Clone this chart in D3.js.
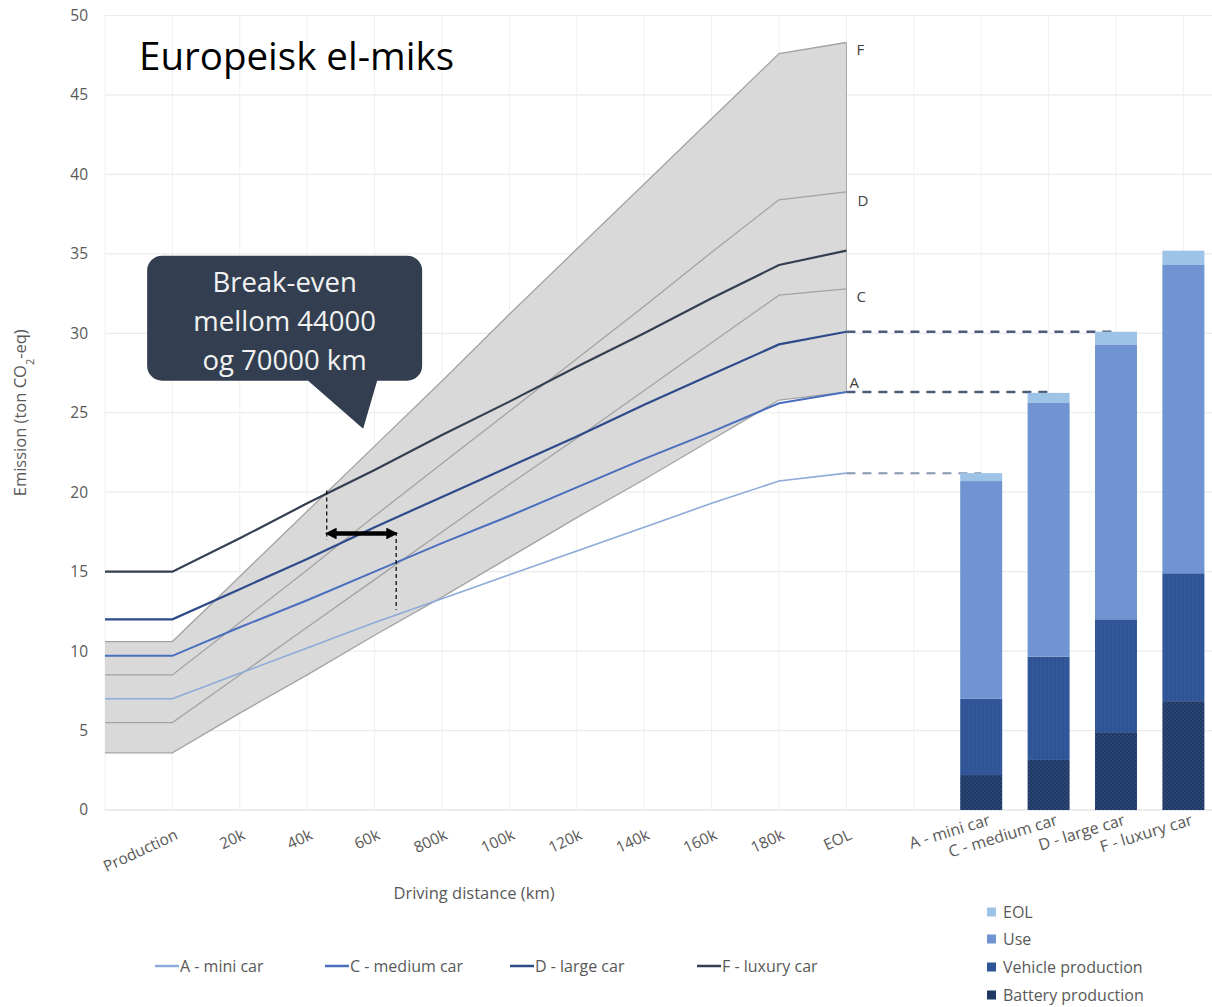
<!DOCTYPE html>
<html lang="no">
  <head>
    <meta charset="UTF-8" />
    <title>Europeisk el-miks</title>
    <script src="https://cdn.jsdelivr.net/npm/d3@7"></script>
    <style>
      body { margin: 0; background: #fff; }
      svg text { font-family: "Open Sans", "Noto Sans", sans-serif; }
    </style>
  </head>
  <body>
    <svg id="chart"></svg>
    <script>
      // x categories: one unlabeled start point, the distance steps, a gap, then the cars
      const distCats = ["", "Production", "20k", "40k", "60k", "800k", "100k", "120k", "140k", "160k", "180k", "EOL"];
      const carCats = ["A - mini car", "C - medium car", "D - large car", "F - luxury car"];
      const yTicks = [0, 5, 10, 15, 20, 25, 30, 35, 40, 45, 50];

      // electric cars (European mix), ton CO2-eq
      const evMini = [7.0, 7.0, 8.6, 10.2, 11.8, 13.3, 14.8, 16.3, 17.8, 19.3, 20.7, 21.2];
      const evMedium = [9.7, 9.7, 11.5, 13.2, 15.0, 16.8, 18.5, 20.3, 22.1, 23.8, 25.6, 26.3];
      const evLarge = [12.0, 12.0, 13.9, 15.8, 17.8, 19.7, 21.6, 23.5, 25.5, 27.4, 29.3, 30.1];
      const evLuxury = [15.0, 15.0, 17.1, 19.3, 21.4, 23.6, 25.7, 27.9, 30.0, 32.2, 34.3, 35.2];

      // grey comparison lines (labelled A, C, D, F at the end)
      const greyA = [3.6, 3.6, 6.1, 8.5, 11.0, 13.4, 15.9, 18.4, 20.8, 23.3, 25.8, 26.3];
      const greyC = [5.5, 5.5, 8.5, 11.5, 14.5, 17.5, 20.5, 23.4, 26.4, 29.4, 32.4, 32.8];
      const greyD = [8.5, 8.5, 11.8, 15.1, 18.5, 21.8, 25.1, 28.4, 31.7, 35.1, 38.4, 38.9];
      const greyF = [10.6, 10.6, 14.7, 18.8, 22.9, 27.0, 31.2, 35.3, 39.4, 43.5, 47.6, 48.3];

      // stacked bars per car
      const stackKeys = ["Battery production", "Vehicle production", "Use", "EOL"];
      const batteryProd = [2.2, 3.15, 4.9, 6.85];
      const vehicleProd = [4.8, 6.5, 7.1, 8.05];
      const useEmis = [13.7, 16.0, 17.3, 19.4];
      const eolEmis = [0.5, 0.6, 0.8, 0.9];

      // annotation: break-even range (position as category index, values in ton)
      const breakEven = [
        { idx: 3.29, from: 20.1, to: 17.0 },
        { idx: 4.32, from: 17.5, to: 12.6 },
      ];
      const arrowLevel = 17.4;
      const calloutTip = { idx: 3.83, v: 24.0 };
      const calloutLines = ["Break-even", "mellom 44000", "og 70000 km"];

      const W = 1212, H = 1007;
      const svg = d3.select("#chart").attr("width", W).attr("height", H);
      const txtGrey = "#595959";

      const allCats = [...distCats, " ", ...carCats];
      const x = d3.scalePoint().domain(allCats).range([105, 1183.4]);
      const xi = (i) => x(allCats[0]) + i * x.step();
      const y = d3.scaleLinear().domain([0, 50]).range([810, 15.5]);

      const defs = svg.append("defs");
      const pat = defs.append("pattern").attr("id", "batt").attr("width", 4).attr("height", 4)
        .attr("patternUnits", "userSpaceOnUse");
      pat.append("rect").attr("width", 4).attr("height", 4).attr("fill", "#1f3864");
      pat.append("rect").attr("width", 2).attr("height", 2).attr("fill", "#2a4677");
      pat.append("rect").attr("x", 2).attr("y", 2).attr("width", 2).attr("height", 2).attr("fill", "#2a4677");
      const vpat = defs.append("pattern").attr("id", "veh").attr("width", 4).attr("height", 4)
        .attr("patternUnits", "userSpaceOnUse");
      vpat.append("rect").attr("width", 4).attr("height", 4).attr("fill", "#2f5597");
      vpat.append("rect").attr("width", 1).attr("height", 4).attr("fill", "#34599c");

      ["start", "end"].forEach((k) => {
        defs.append("marker").attr("id", "arr-" + k)
          .attr("viewBox", "0 0 10 10").attr("refX", 5).attr("refY", 5)
          .attr("markerWidth", 2.6).attr("markerHeight", 2.6)
          .attr("orient", "auto-start-reverse")
          .append("path").attr("d", "M0,0 L10,5 L0,10 z").attr("fill", "#000");
      });

      // gridlines
      const grid = svg.append("g");
      grid.selectAll(".hg").data(yTicks).join("line")
        .attr("x1", xi(0)).attr("x2", W)
        .attr("y1", (d) => y(d)).attr("y2", (d) => y(d))
        .attr("stroke", (d) => (d === 0 ? "#d9d9d9" : "#ebebeb")).attr("stroke-width", 1.2);
      grid.selectAll(".vg").data(allCats).join("line")
        .attr("x1", (d) => x(d)).attr("x2", (d) => x(d))
        .attr("y1", y(50)).attr("y2", y(0))
        .attr("stroke", "#f0f0f0").attr("stroke-width", 1);

      // y axis
      const yAxis = svg.append("g").attr("transform", `translate(${xi(0)},0)`)
        .call(d3.axisLeft(y).tickValues(yTicks).tickSize(0).tickPadding(17));
      yAxis.select(".domain").remove();
      yAxis.selectAll("text").attr("font-size", 15.5).attr("fill", txtGrey)
        .style("font-family", '"Open Sans", sans-serif');

      // x axis labels
      const xAxis = svg.append("g").attr("transform", `translate(0,${y(0)})`)
        .call(d3.axisBottom(x).tickSize(0));
      xAxis.select(".domain").remove();
      xAxis.selectAll("text")
        .style("font-family", '"Open Sans", sans-serif')
        .attr("font-size", (d) => (carCats.includes(d) ? 16 : 15.5)).attr("fill", txtGrey)
        .attr("text-anchor", "end").attr("y", 0).attr("dy", "0.75em")
        .attr("transform", (d) => carCats.includes(d)
          ? `translate(6,3) rotate(-17)`
          : `translate(1,18) rotate(-25)`);

      // grey area between lowest and highest grey lines
      const area = d3.area().x((d, i) => xi(i)).y0((d, i) => y(greyA[i])).y1((d) => y(d));
      svg.append("path").datum(greyF).attr("d", area).attr("fill", "#d9d9d9");
      svg.append("line")
        .attr("x1", x("EOL")).attr("x2", x("EOL"))
        .attr("y1", y(greyF[greyF.length - 1])).attr("y2", y(greyA[greyA.length - 1]))
        .attr("stroke", "#a6a6a6").attr("stroke-width", 1);

      const line = d3.line().x((d, i) => xi(i)).y((d) => y(d));
      const greys = [
        { name: "A", v: greyA, dy: -4, dx: 3 },
        { name: "C", v: greyC, dy: 13, dx: 10 },
        { name: "D", v: greyD, dy: 14, dx: 11 },
        { name: "F", v: greyF, dy: 12, dx: 10 },
      ];
      svg.selectAll(".grey").data(greys).join("path")
        .attr("d", (d) => line(d.v)).attr("fill", "none")
        .attr("stroke", "#a3a3a3").attr("stroke-width", 1.3);
      svg.selectAll(".glab").data(greys).join("text")
        .attr("x", (d) => x("EOL") + d.dx)
        .attr("y", (d) => y(d.v[d.v.length - 1]) + d.dy)
        .attr("font-size", 15).attr("fill", "#404040").text((d) => d.name);

      // dashed connectors from EOL to the bars
      const connectors = [
        { v: evMini, car: carCats[0], color: "#8497b0", w: 2 },
        { v: evMedium, car: carCats[1], color: "#4d5b7c", w: 2.5 },
        { v: evLarge, car: carCats[2], color: "#4d5b7c", w: 2.5 },
      ];
      svg.selectAll(".conn").data(connectors).join("line")
        .attr("x1", x("EOL")).attr("x2", (d) => x(d.car))
        .attr("y1", (d) => y(d.v[d.v.length - 1])).attr("y2", (d) => y(d.v[d.v.length - 1]))
        .attr("stroke", (d) => d.color).attr("stroke-width", (d) => d.w)
        .attr("stroke-dasharray", "9 7");

      // EV lines
      const evSeries = [
        { name: "A - mini car", v: evMini, color: "#8eaadb", w: 1.6 },
        { name: "C - medium car", v: evMedium, color: "#4a6fbe", w: 2 },
        { name: "D - large car", v: evLarge, color: "#2d4a8a", w: 2.2 },
        { name: "F - luxury car", v: evLuxury, color: "#333f50", w: 2.2 },
      ];
      svg.selectAll(".ev").data(evSeries).join("path")
        .attr("d", (d) => line(d.v)).attr("fill", "none")
        .attr("stroke", (d) => d.color).attr("stroke-width", (d) => d.w);

      // stacked bars
      const barRows = carCats.map((c, i) => ({
        car: c,
        "Battery production": batteryProd[i],
        "Vehicle production": vehicleProd[i],
        Use: useEmis[i],
        EOL: eolEmis[i],
      }));
      const stacks = d3.stack().keys(stackKeys)(barRows);
      const barFill = { "Battery production": "url(#batt)", "Vehicle production": "url(#veh)", Use: "#7094d1", EOL: "#9dc3e6" };
      const legendFill = { "Battery production": "#1f3864", "Vehicle production": "#2f5597", Use: "#7094d1", EOL: "#9dc3e6" };
      const bw = 42;
      svg.append("g").selectAll("g").data(stacks).join("g")
        .attr("fill", (d) => barFill[d.key])
        .selectAll("rect").data((d) => d).join("rect")
        .attr("x", (d) => x(d.data.car) - bw / 2).attr("width", bw)
        .attr("y", (d) => y(d[1])).attr("height", (d) => y(d[0]) - y(d[1]));

      // break-even annotation
      const ann = svg.append("g");
      ann.selectAll("line.be").data(breakEven).join("line")
        .attr("x1", (d) => xi(d.idx)).attr("x2", (d) => xi(d.idx))
        .attr("y1", (d) => y(d.from)).attr("y2", (d) => y(d.to))
        .attr("stroke", "#000").attr("stroke-width", 1.2).attr("stroke-dasharray", "4 3");
      ann.append("line")
        .attr("x1", xi(breakEven[0].idx) + 4).attr("x2", xi(breakEven[1].idx) - 4)
        .attr("y1", y(arrowLevel)).attr("y2", y(arrowLevel))
        .attr("stroke", "#000").attr("stroke-width", 4.5)
        .attr("marker-start", "url(#arr-start)").attr("marker-end", "url(#arr-end)");

      // callout
      const tx = xi(calloutTip.idx), ty = y(calloutTip.v);
      const bx0 = tx - 216, bx1 = tx + 59, by0 = ty - 173, by1 = ty - 48, r = 15;
      const cp = d3.path();
      cp.moveTo(bx0 + r, by0);
      cp.lineTo(bx1 - r, by0);
      cp.arcTo(bx1, by0, bx1, by0 + r, r);
      cp.lineTo(bx1, by1 - r);
      cp.arcTo(bx1, by1, bx1 - r, by1, r);
      cp.lineTo(tx + 14, by1);
      cp.lineTo(tx, ty);
      cp.lineTo(tx - 55, by1);
      cp.lineTo(bx0 + r, by1);
      cp.arcTo(bx0, by1, bx0, by1 - r, r);
      cp.lineTo(bx0, by0 + r);
      cp.arcTo(bx0, by0, bx0 + r, by0, r);
      cp.closePath();
      svg.append("path").attr("d", cp.toString()).attr("fill", "#333f50");
      svg.append("g").selectAll("text").data(calloutLines).join("text")
        .attr("x", (bx0 + bx1) / 2).attr("y", (d, i) => by0 + 36 + i * 39)
        .attr("text-anchor", "middle").attr("font-size", 27.5).attr("fill", "#f2f2f2")
        .text((d) => d);

      // title
      svg.append("text").attr("x", 139).attr("y", 70).attr("font-size", 38.5)
        .attr("fill", "#000").text("Europeisk el-miks");

      // axis titles
      const yt = svg.append("text").attr("transform", `translate(26,${(y(0) + y(50)) / 2}) rotate(-90)`)
        .attr("text-anchor", "middle").attr("font-size", 16.5).attr("fill", txtGrey);
      yt.append("tspan").text("Emission (ton CO");
      yt.append("tspan").attr("font-size", 11).attr("baseline-shift", "sub").text("2");
      yt.append("tspan").text("-eq)");
      svg.append("text").attr("x", 474).attr("y", 899)
        .attr("text-anchor", "middle").attr("font-size", 16.5).attr("fill", txtGrey)
        .text("Driving distance (km)");

      // line legend
      const legX = [155, 325, 510, 697];
      const lg = svg.append("g").selectAll("g").data(evSeries).join("g")
        .attr("transform", (d, i) => `translate(${legX[i]},966)`);
      lg.append("line").attr("x1", 0).attr("x2", 24).attr("y1", 0).attr("y2", 0)
        .attr("stroke", (d) => d.color).attr("stroke-width", 2.5);
      lg.append("text").attr("x", 25).attr("y", 0).attr("dy", "0.35em")
        .attr("font-size", 16).attr("fill", txtGrey).text((d) => d.name);

      // bar legend
      const barLegend = stackKeys.slice().reverse();
      const bl = svg.append("g").selectAll("g").data(barLegend).join("g")
        .attr("transform", (d, i) => `translate(987,${[912, 939, 967, 995][i]})`);
      bl.append("rect").attr("x", 0).attr("y", -4.5).attr("width", 9).attr("height", 9)
        .attr("fill", (d) => legendFill[d]);
      bl.append("text").attr("x", 16).attr("y", 0).attr("dy", "0.35em")
        .attr("font-size", 16).attr("fill", txtGrey).text((d) => d);
    </script>
  </body>
</html>
